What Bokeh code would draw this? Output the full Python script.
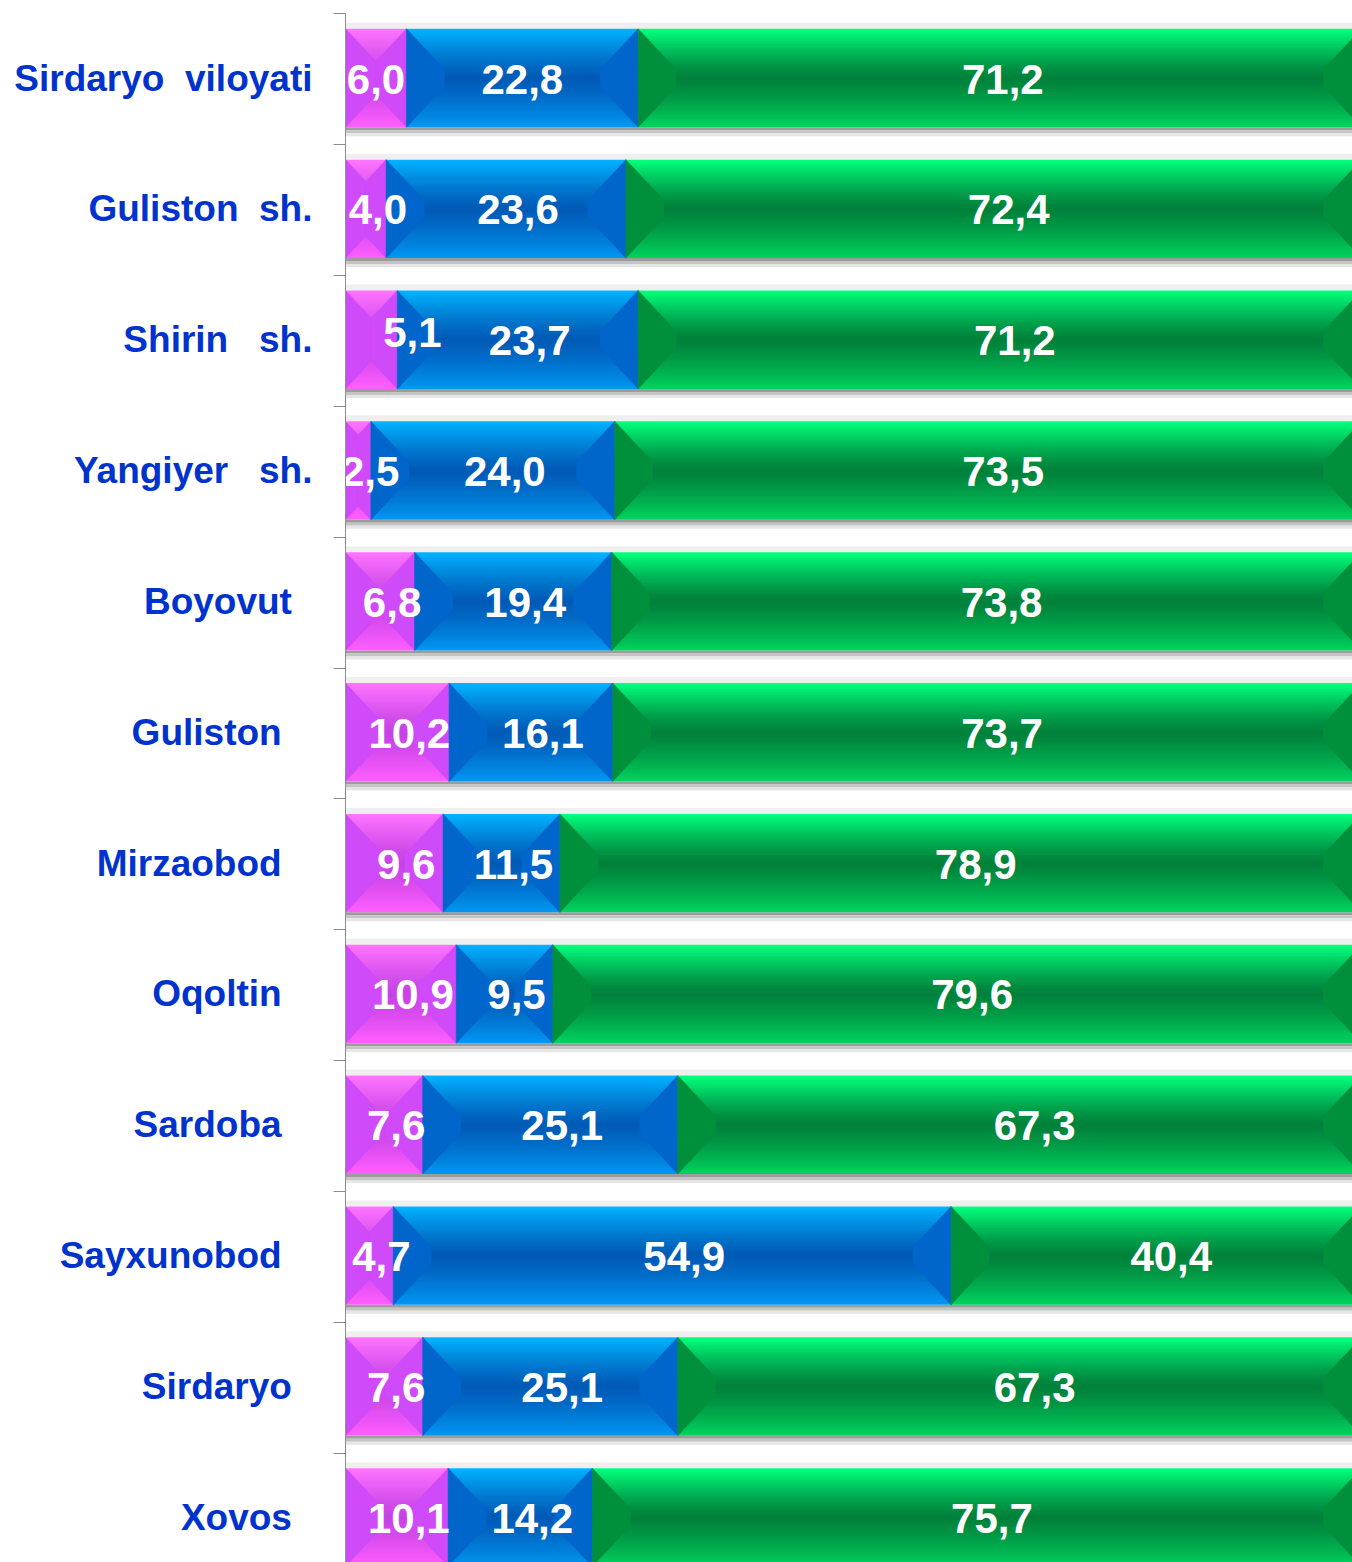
from bokeh.plotting import figure
from bokeh.models import Range1d, FixedTicker, ColumnDataSource
from bokeh.embed import file_html
from bokeh.resources import INLINE
from bokeh.core.properties import value

# ---------------- data ----------------
categories = ["Sirdaryo  viloyati", "Guliston  sh.", "Shirin   sh.", "Yangiyer   sh.",
              "Boyovut", "Guliston", "Mirzaobod", "Oqoltin", "Sardoba",
              "Sayxunobod", "Sirdaryo", "Xovos"]
pink_vals = [6.0, 4.0, 5.1, 2.5, 6.8, 10.2, 9.6, 10.9, 7.6, 4.7, 7.6, 10.1]
blue_vals = [22.8, 23.6, 23.7, 24.0, 19.4, 16.1, 11.5, 9.5, 25.1, 54.9, 25.1, 14.2]
green_vals = [71.2, 72.4, 71.2, 73.5, 73.8, 73.7, 78.9, 79.6, 67.3, 40.4, 67.3, 75.7]
series = [pink_vals, blue_vals, green_vals]

# ---------------- layout / style ----------------
NB = "\u00a0"
label_pad = [0, 0, 0, 0, 2, 3, 3, 3, 3, 3, 2, 2]  # trailing non-breaking spaces
XS = 10.16      # px per percent
YS = 130.85     # px per row
BAR_PX = 98.4
BH = BAR_PX / YS
LEFT_PX = 345
W, H = 1352, 1562
XEND = (W - LEFT_PX) / XS
CENTER0_PX = 77.5
Y_TOP = -CENTER0_PX / YS
Y_BOT = (H - CENTER0_PX) / YS

styles = [
    dict(top=(0xff, 0x74, 0xff), mid=(0xc6, 0x42, 0xe6), bot=(0xff, 0x5e, 0xff), end="#cf4af8"),
    dict(top=(0x00, 0xb2, 0xff), mid=(0x00, 0x5a, 0xb6), bot=(0x00, 0x96, 0xf2), end="#0066cc"),
    dict(top=(0x00, 0xff, 0x7c), mid=(0x00, 0x80, 0x3a), bot=(0x00, 0xd2, 0x5e), end="#00903c"),
]

def hexc(c):
    return "#%02x%02x%02x" % tuple(int(round(v)) for v in c)

def lerp(a, b, t):
    return tuple(a[i] + (b[i] - a[i]) * t for i in range(3))

p = figure(width=W, height=H, x_range=Range1d(0, XEND), y_range=Range1d(Y_BOT, Y_TOP),
           output_backend="svg", toolbar_location=None, x_axis_location=None,
           min_border_left=LEFT_PX, min_border_right=0, min_border_top=0, min_border_bottom=0)
p.grid.visible = False
p.outline_line_color = None
p.background_fill_color = "white"
p.border_fill_color = "white"

# shadows / light bands
sh = dict(l=[], r=[], t=[], b=[], c=[])
for i in range(len(categories)):
    top = i - BH / 2
    bot = i + BH / 2
    for (a, b_, c) in [(-6, 0, "#efefef"), (0, 3, "#9c9c9c"), (3, 6, "#c4c4c4"), (6, 9, "#e6e6e6")]:
        if a < 0:
            sh["t"].append(top + a / YS); sh["b"].append(top + b_ / YS)
        else:
            sh["t"].append(bot + a / YS); sh["b"].append(bot + b_ / YS)
        sh["l"].append(0); sh["r"].append(100); sh["c"].append(c)
p.quad(left="l", right="r", top="t", bottom="b", fill_color="c", line_color=None,
       source=ColumnDataSource(sh))

# gradient: nested half-rectangles (largest first) so there are no seams
N = 24
q = dict(l=[], r=[], t=[], b=[], c=[])
tz = dict(xs=[], ys=[], c=[])
txt = dict(x=[], y=[], s=[], dx=[], dy=[])
h = BH / 2
for k in range(N):
    frac = 1 - k / N           # half-height fraction of this layer
    m = frac                   # 1 at edges, ->0 at centre
    for i in range(len(categories)):
        start = 0.0
        for si, vals in enumerate(series):
            v = vals[i]
            st = styles[si]
            x0, x1 = start, start + v
            ct = lerp(st["mid"], st["top"], m ** 1.3)
            cb = lerp(st["mid"], st["bot"], m ** 1.3)
            q["l"] += [x0, x0]; q["r"] += [x1, x1]
            q["t"] += [i - h * frac, i]; q["b"] += [i, i + h * frac]
            q["c"] += [hexc(ct), hexc(cb)]
            start = x1

for i in range(len(categories)):
    start = 0.0
    for si, vals in enumerate(series):
        v = vals[i]
        x0, x1 = start, start + v
        st = styles[si]
        # bevel ends
        w_px = v * XS
        d_px = min(38.0, w_px / 2)
        dy_px = min(d_px * 1.07, BAR_PX / 2)
        dx = d_px / XS
        dyy = dy_px / YS
        tz["xs"].append([x0, x0 + dx, x0 + dx, x0]); tz["ys"].append([i - h, i - h + dyy, i + h - dyy, i + h]); tz["c"].append(st["end"])
        tz["xs"].append([x1, x1 - dx, x1 - dx, x1]); tz["ys"].append([i - h, i - h + dyy, i + h - dyy, i + h]); tz["c"].append(st["end"])
        # labels
        txt["x"].append((x0 + x1) / 2)
        txt["y"].append(i)
        txt["s"].append(("%.1f" % v).replace(".", ","))
        off = 0 if i == 0 else 12
        if si == 2:
            off += 3
        ddy = 1
        if i == 2 and si == 0:
            off, ddy = 41, -7
        txt["dx"].append(off); txt["dy"].append(ddy)
        start = x1

p.quad(left="l", right="r", top="t", bottom="b", fill_color="c", line_color=None,
       source=ColumnDataSource(q))
p.patches(xs="xs", ys="ys", fill_color="c", line_color="c", line_width=0.5,
          source=ColumnDataSource(tz))
p.text(x="x", y="y", text="s", x_offset="dx", y_offset="dy", source=ColumnDataSource(txt),
       text_align="center", text_baseline="middle", text_color="white",
       text_font=value("Liberation Sans"), text_font_style="bold", text_font_size="42px")

# axis
ax = p.yaxis[0]
centers = list(range(len(categories)))
bounds = [i - 0.49 for i in range(len(categories) + 1)]
ax.ticker = FixedTicker(ticks=centers, minor_ticks=bounds)
ax.major_label_overrides = {i: categories[i].replace(" ", NB) + NB * label_pad[i] for i in centers}
ax.major_tick_out = 0
ax.major_tick_in = 0
ax.minor_tick_out = 12
ax.minor_tick_in = 0
ax.minor_tick_line_color = "#8c8c8c"
ax.minor_tick_line_width = 1
ax.axis_line_color = "#8c8c8c"
ax.axis_line_width = 1
ax.bounds = (-0.49, Y_BOT)
ax.major_label_standoff = 21
ax.major_label_text_font = "Liberation Sans"
ax.major_label_text_font_style = "bold"
ax.major_label_text_font_size = "37px"
ax.major_label_text_color = "#0033cc"

open("out.html", "w").write(file_html(p, INLINE))
